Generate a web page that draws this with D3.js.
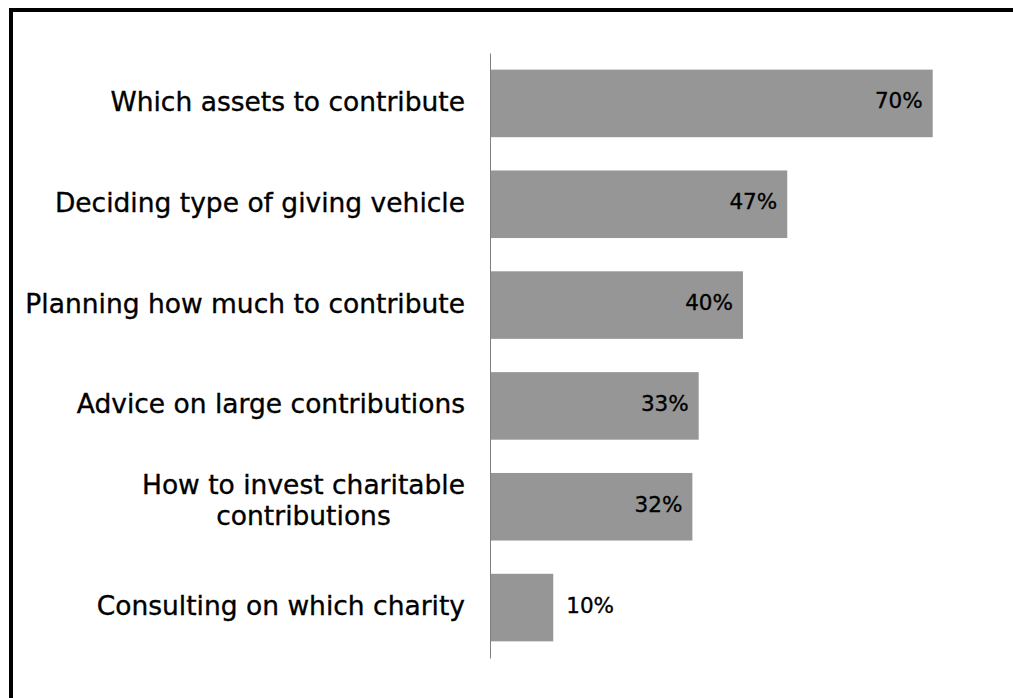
<!DOCTYPE html>
<html><head><meta charset="utf-8">
<script src="https://cdn.jsdelivr.net/npm/d3@7"></script>
<style>html,body{margin:0;padding:0;background:#fff;}svg{display:block;}</style>
</head><body>
<svg id="chart" width="1013" height="698"></svg>
<script>
const categories = [
  ["Which assets to contribute"],
  ["Deciding type of giving vehicle"],
  ["Planning how much to contribute"],
  ["Advice on large contributions"],
  ["How to invest charitable", "contributions"],
  ["Consulting on which charity"]
];
const values = [70, 47, 40, 33, 32, 10];
const valueLabels = ["70%", "47%", "40%", "33%", "32%", "10%"];

const svg = d3.select("#chart");
const font = "'DejaVu Sans', sans-serif";

// frame (cropped on right and bottom)
svg.append("rect").attr("x", 11).attr("y", 10).attr("width", 1020).attr("height", 720)
  .attr("fill", "none").attr("stroke", "#000").attr("stroke-width", 4);

const idx = d3.range(values.length);
const y = d3.scaleBand().domain(idx).range([53, 658]).paddingInner(0.33).paddingOuter(0.165);
const x = d3.scaleLinear().domain([0, 70]).range([490, 932.7]);

svg.selectAll("rect.bar").data(idx).join("rect").attr("class", "bar")
  .attr("x", x(0)).attr("y", d => y(d))
  .attr("width", d => x(values[d]) - x(0)).attr("height", y.bandwidth())
  .attr("fill", "#969696");

// axis
const axis = d3.axisLeft(y).tickSize(0).tickFormat("");
const ax = svg.append("g").attr("transform", `translate(${x(0)},0)`).call(axis);
ax.select(".domain").attr("stroke", "#808080").attr("stroke-width", 1);

// category labels
idx.forEach(i => {
  const lines = categories[i];
  const g = svg.append("g");
  const lh = 31;
  const cy = y(i) + y.bandwidth() / 2;
  const shift = lines.length > 1 ? -4.5 : 0;
  const texts = lines.map((l, k) => g.append("text")
    .attr("y", cy + 7.5 + shift + (k - (lines.length - 1) / 2) * lh)
    .attr("font-family", font).attr("font-size", 26.5).attr("fill", "#000")
    .attr("stroke", "#000").attr("stroke-width", 0.35)
    .text(l));
  const w = d3.max(texts, t => t.node().getComputedTextLength());
  const right = 465;
  texts.forEach(t => t.attr("text-anchor", "middle").attr("x", right - w / 2));
});

// value labels
idx.forEach(i => {
  const inside = values[i] > 20;
  svg.append("text")
    .attr("x", inside ? x(values[i]) - 10 : x(values[i]) + 13)
    .attr("y", y(i) + y.bandwidth() / 2 + 5)
    .attr("text-anchor", inside ? "end" : "start")
    .attr("font-family", font).attr("font-size", 21.5).attr("fill", "#000")
    .attr("stroke", "#000").attr("stroke-width", 0.35)
    .text(valueLabels[i]);
});
</script>
</body></html>
